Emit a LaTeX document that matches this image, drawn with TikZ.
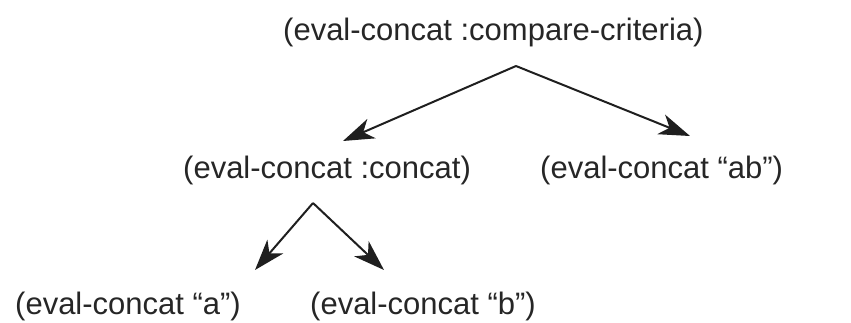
\documentclass[tikz,border=0pt]{standalone}
\usepackage{fontspec}
\setmainfont{Liberation Sans}
\usetikzlibrary{arrows.meta}
\begin{document}
\begin{tikzpicture}[x=1pt,y=-1pt,
  expr/.style={inner sep=0pt,anchor=base west,text=black!85,
    font=\fontsize{31}{36}\selectfont},
  link/.style={line width=2pt,draw=black!88,
    -{Stealth[length=31pt,width=21pt,inset=9pt]}}]
  \useasboundingbox (0,0) rectangle (851,322);
  % expressions of the evaluation tree
  \node[expr] (root)   at (283,40)  {(eval-concat :compare-criteria)};
  \node[expr] (concat) at (183,178) {(eval-concat :concat)};
  \node[expr] (ab)     at (540,178) {(eval-concat “ab”)};
  \node[expr] (a)      at (15,314)  {(eval-concat “a”)};
  \node[expr] (b)      at (310,314) {(eval-concat “b”)};
  % fork points and arrow ends
  \coordinate (rootfork)   at (516,66);
  \coordinate (concatfork) at (313,203);
  \coordinate (toconcat) at (343,141);
  \coordinate (toab)     at (690,136);
  \coordinate (toa)      at (255,270);
  \coordinate (tob)      at (384,270);
  \draw[link] (rootfork) -- (toconcat);
  \draw[link] (rootfork) -- (toab);
  \draw[link] (concatfork) -- (toa);
  \draw[link] (concatfork) -- (tob);
\end{tikzpicture}
\end{document}
